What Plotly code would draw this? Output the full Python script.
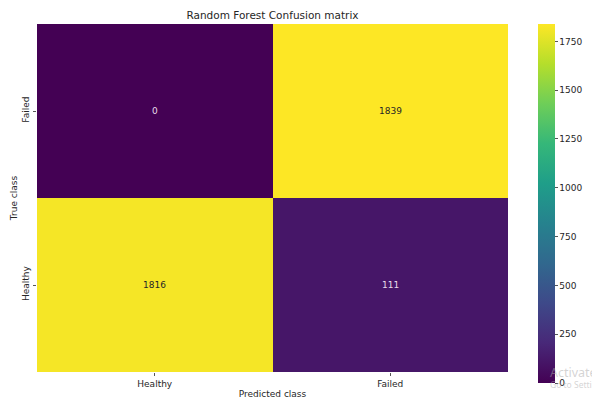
import plotly.graph_objects as go

# Confusion matrix for the random forest classifier
true_classes = ["Failed", "Healthy"]        # rows, top to bottom
predicted_classes = ["Healthy", "Failed"]   # columns, left to right
row_failed = [0, 1839]
row_healthy = [1816, 111]
counts = [row_failed, row_healthy]
cbar_ticks = [0, 250, 500, 750, 1000, 1250, 1500, 1750]

zmax = max(max(r) for r in counts)
FONT = "DejaVu Sans"
TXT = "#262626"

fig = go.Figure(
    go.Heatmap(
        z=counts,
        x=predicted_classes,
        y=true_classes,
        colorscale="Viridis",
        zmin=0,
        zmax=zmax,
        xgap=0,
        ygap=0,
        colorbar=dict(
            thickness=17,
            lenmode="pixels",
            len=359,
            x=1.0637,
            xanchor="left",
            xpad=0,
            y=1,
            yanchor="top",
            ypad=0,
            outlinewidth=0,
            tickvals=cbar_ticks,
            ticks="outside",
            ticklen=3,
            tickcolor="#555555",
            tickfont=dict(family=FONT, size=9, color=TXT),
        ),
        hoverinfo="skip",
    )
)

# Cell annotations: light text on dark cells, dark text on light cells
for i, row in enumerate(counts):
    for j, v in enumerate(row):
        fig.add_annotation(
            x=predicted_classes[j], y=true_classes[i], text=str(v),
            showarrow=False,
            font=dict(family=FONT, size=9,
                      color="#e8dcea" if v < zmax / 2 else TXT),
        )

# Faint operating-system watermark in the lower-right corner
fig.add_annotation(xref="paper", yref="paper", x=1.085, y=0.0,
                   xanchor="left", yanchor="middle", text="Activate Windows",
                   showarrow=False,
                   font=dict(family="Noto Sans", size=12.5, color="rgba(170,170,170,0.5)"))
fig.add_annotation(xref="paper", yref="paper", x=1.085, y=-0.037,
                   xanchor="left", yanchor="middle", text="Go to Settings to activate Windows.",
                   showarrow=False,
                   font=dict(family="Noto Sans", size=8.5, color="rgba(170,170,170,0.5)"))

fig.update_layout(
    width=592,
    height=401,
    margin=dict(l=37, r=84, t=24, b=29, autoexpand=False),
    paper_bgcolor="white",
    plot_bgcolor="white",
    font=dict(family=FONT, color=TXT),
    title=dict(text="Random Forest Confusion matrix", x=0.4603, xanchor="center",
               y=1 - 15 / 401, yanchor="middle",
               font=dict(family=FONT, size=10.5, color=TXT)),
    xaxis=dict(
        title=dict(text="Predicted class", font=dict(family=FONT, size=9, color=TXT), standoff=2),
        automargin=False,
        ticks="outside", ticklen=3, tickcolor="#555555",
        tickfont=dict(family=FONT, size=9, color=TXT),
        showgrid=False, zeroline=False, showline=False,
    ),
    yaxis=dict(
        title=dict(text="True class", font=dict(family=FONT, size=9, color=TXT), standoff=2),
        automargin=False,
        autorange="reversed",
        ticks="outside", ticklen=3, tickcolor="#555555",
        tickangle=-90,
        tickfont=dict(family=FONT, size=9, color=TXT),
        showgrid=False, zeroline=False, showline=False,
    ),
)

fig.write_html("out.html")
